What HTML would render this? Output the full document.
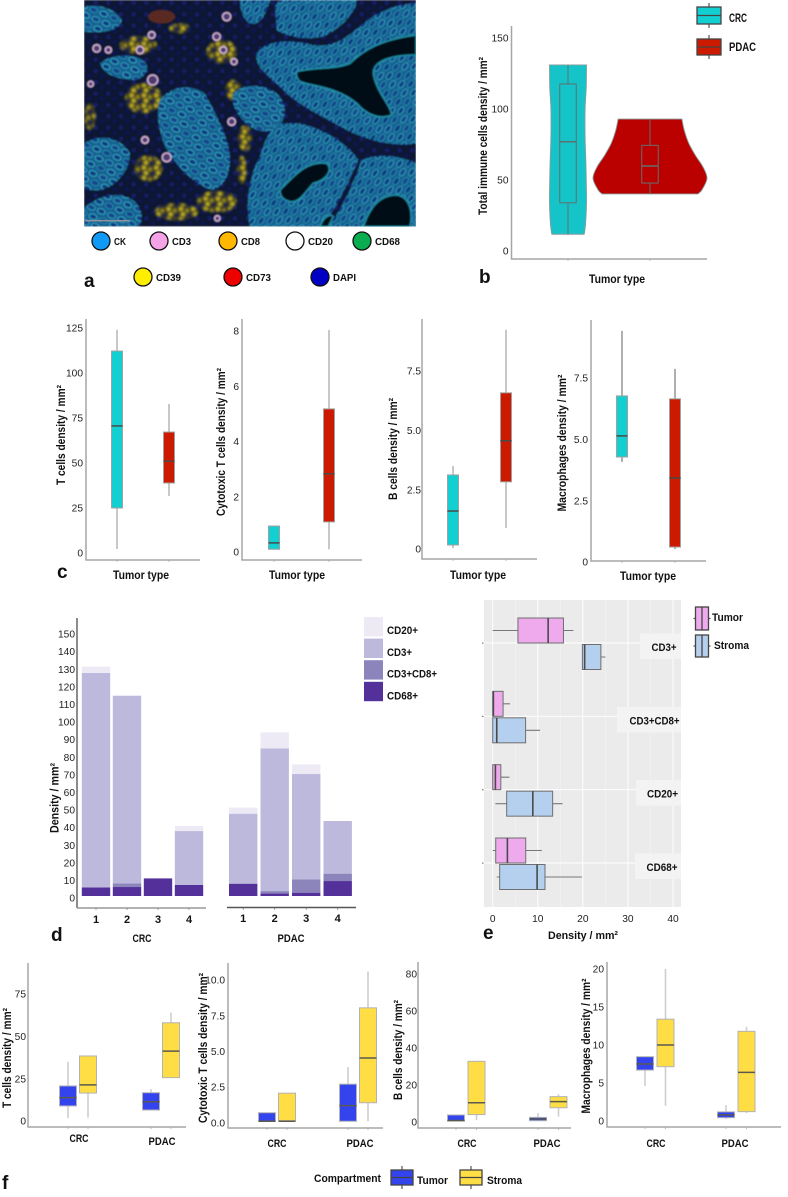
<!DOCTYPE html>
<html lang="en">
<head>
<meta charset="utf-8">
<title>Immune cell density in CRC and PDAC</title>
<style>
html,body{margin:0;padding:0;background:#fff;width:788px;height:1197px;overflow:hidden}
svg{display:block}
text{font-family:"Liberation Sans",sans-serif}
</style>
</head>
<body>
<svg id="figure" xmlns="http://www.w3.org/2000/svg" width="788" height="1197" viewBox="0 0 788 1197">
<defs>
<pattern id="cells-a" width="66" height="48" patternUnits="userSpaceOnUse" patternTransform="rotate(22)">
<rect width="66" height="48" fill="#175f8e"/>
<ellipse cx="16" cy="12" rx="12" ry="8" fill="#10387f" stroke="#38b4c8" stroke-width="3"/>
<ellipse cx="49" cy="12" rx="12" ry="8" fill="#134389" stroke="#2792b2" stroke-width="3"/>
<ellipse cx="0" cy="36" rx="12" ry="8" fill="#134389" stroke="#30a6bf" stroke-width="3"/>
<ellipse cx="33" cy="36" rx="12" ry="8" fill="#10387f" stroke="#38b4c8" stroke-width="3"/>
<ellipse cx="66" cy="36" rx="12" ry="8" fill="#134389" stroke="#30a6bf" stroke-width="3"/>
</pattern>
<pattern id="cells-b" width="66" height="44" patternUnits="userSpaceOnUse" patternTransform="rotate(-55)">
<rect width="66" height="44" fill="#175f8e"/>
<ellipse cx="16" cy="11" rx="13" ry="7" fill="#10387f" stroke="#30a6bf" stroke-width="3"/>
<ellipse cx="49" cy="11" rx="13" ry="7" fill="#134389" stroke="#2792b2" stroke-width="3"/>
<ellipse cx="0" cy="33" rx="13" ry="7" fill="#134389" stroke="#30a6bf" stroke-width="3"/>
<ellipse cx="33" cy="33" rx="13" ry="7" fill="#10387f" stroke="#2792b2" stroke-width="3"/>
<ellipse cx="66" cy="33" rx="13" ry="7" fill="#134389" stroke="#30a6bf" stroke-width="3"/>
</pattern>
<pattern id="speckle" width="37" height="31" patternUnits="userSpaceOnUse">
<rect width="37" height="31" fill="#3c3a22"/>
<circle cx="7" cy="7" r="6" fill="#cdbb22"/>
<circle cx="25" cy="12" r="5" fill="#a99c1e"/>
<circle cx="13" cy="23" r="5.5" fill="#d9c824"/>
<circle cx="31" cy="26" r="6" fill="#101a50"/>
</pattern>
<pattern id="stroma" width="38" height="34" patternUnits="userSpaceOnUse">
<rect width="38" height="34" fill="#0a1730"/>
<circle cx="9" cy="9" r="7" fill="#131d63"/>
<circle cx="28" cy="24" r="7" fill="#101850"/>
</pattern>
<filter id="soft" x="-2%" y="-2%" width="104%" height="104%"><feGaussianBlur stdDeviation="2.6"/></filter>
<filter id="softer" x="-20%" y="-20%" width="140%" height="140%"><feGaussianBlur stdDeviation="3"/></filter>
<clipPath id="photo-clip"><rect x="12" y="0" width="996" height="680"/></clipPath>
</defs>
<g transform="translate(80,0) scale(0.33333)">
<g clip-path="url(#photo-clip)">
<g filter="url(#soft)">
<rect x="12" y="0" width="996" height="680" fill="url(#stroma)"/>
<g fill="url(#speckle)" filter="url(#softer)">
<ellipse cx="175" cy="135" rx="55" ry="26"/>
<ellipse cx="190" cy="295" rx="55" ry="45"/>
<ellipse cx="205" cy="505" rx="42" ry="38"/>
<ellipse cx="290" cy="635" rx="65" ry="25"/>
<ellipse cx="410" cy="605" rx="60" ry="32"/>
<ellipse cx="425" cy="155" rx="45" ry="35"/>
<ellipse cx="460" cy="270" rx="25" ry="30"/>
<ellipse cx="495" cy="415" rx="22" ry="38"/>
<ellipse cx="485" cy="510" rx="14" ry="42"/>
<ellipse cx="30" cy="350" rx="16" ry="40"/>
<ellipse cx="300" cy="85" rx="32" ry="14"/>
</g>
<ellipse cx="245" cy="50" rx="40" ry="20" fill="#5a2a20"/>
<g fill="url(#cells-a)">
<path d="M12,20 C60,10 110,30 125,60 C120,95 60,100 12,95 Z"/>
<path d="M60,190 C90,165 140,160 180,175 C215,195 205,225 170,240 C120,240 70,225 60,190Z"/>
<path d="M240,300 C270,260 330,250 375,280 C400,330 430,380 445,440 C460,500 440,560 395,570 C340,550 290,500 255,440 C240,400 225,340 240,300Z"/>
<path d="M460,280 C490,250 550,250 590,280 C620,310 625,350 590,385 C550,405 510,390 480,350 C460,325 455,300 460,280Z"/>
<path d="M12,430 C60,400 120,410 150,460 C150,510 110,560 60,570 C40,572 25,570 12,565Z"/>
<path d="M12,625 C60,580 130,570 170,610 C190,640 190,670 170,680 L12,680Z"/>
</g>
<g fill="url(#cells-b)">
<path d="M590,370 L660,370 C740,390 800,430 835,480 C800,560 770,620 740,660 L730,680 L510,680 C495,620 505,530 540,470 C550,430 570,390 590,370Z"/>
<path d="M845,480 C890,460 960,465 1008,490 L1008,680 L745,680 C790,620 820,550 845,480Z"/>
<path d="M530,160 C560,120 620,120 680,130 C750,150 790,120 840,80 C880,40 950,10 1008,10 L1008,430 C960,440 880,430 800,390 C730,350 660,320 610,270 C570,230 520,200 530,160Z"/>
<path d="M585,20 C590,10 595,5 600,0 L830,0 C830,30 790,80 740,105 C690,125 620,110 590,90Z"/>
<path d="M480,0 L570,0 C560,40 540,80 510,70 C490,60 480,30 480,0Z"/>
</g>
<g fill="#050a14" stroke="#2296ae" stroke-width="4">
<path d="M650,215 C700,200 760,210 810,190 C850,150 900,120 1008,105 L1008,165 C940,165 880,180 880,220 C890,280 930,310 935,345 C900,360 860,345 830,310 C770,260 700,260 660,245 C650,235 648,225 650,215Z"/>
<path d="M600,570 C640,530 680,480 740,490 C760,510 740,540 700,550 C680,570 660,610 630,605 C610,600 600,590 600,570Z"/>
<path d="M850,680 C870,620 900,585 950,585 C990,590 1000,640 990,680Z"/>
<path d="M720,680 C730,650 750,640 760,650 L745,680Z"/>
</g>
<g fill="#4c3a70" stroke="#e3c0e0" stroke-width="4">
<circle cx="50" cy="145" r="11"/><circle cx="85" cy="150" r="9"/><circle cx="180" cy="150" r="11"/>
<circle cx="215" cy="105" r="10"/><circle cx="218" cy="240" r="15"/><circle cx="410" cy="110" r="11"/>
<circle cx="430" cy="150" r="10"/><circle cx="462" cy="185" r="9"/><circle cx="455" cy="365" r="11"/>
<circle cx="260" cy="472" r="13"/><circle cx="195" cy="420" r="10"/><circle cx="440" cy="50" r="12"/>
<circle cx="412" cy="655" r="8"/><circle cx="32" cy="252" r="8"/>
</g>
</g>
<line x1="15" y1="662" x2="150" y2="662" stroke="#8d93a0" stroke-width="5"/>
</g>
</g>
</svg>
<script>
// ---------- shared categories ----------
const tumorTypes = ['CRC', 'PDAC'];
const typeFills = ['#12d0d2', '#cc1a00'];

// ---------- panel a legend ----------
const markerNames = ['CK', 'CD3', 'CD8', 'CD20', 'CD68', 'CD39', 'CD73', 'DAPI'];
const markerColors = ['#0f9bf5', '#f5a3e6', '#ffb700', '#ffffff', '#0aae50', '#ffee00', '#ee0000', '#0000c4'];

// ---------- panel b: violins ----------
const bTicks = ['0', '50', '100', '150'];
const bLow = [11.6, 40];
const bQ1 = [33.8, 47.7];
const bMedian = [76.8, 59.7];
const bQ3 = [117.6, 74.3];
const bHigh = [131, 92.8];
const bCrcLevels = [131, 115, 100, 80, 60, 35, 20, 11.6];
const bCrcDensity = [0.325, 0.32, 0.3, 0.3, 0.315, 0.325, 0.31, 0.285];
const bPdacLevels = [92.8, 85, 75.7, 67, 59, 51, 42.8, 40];
const bPdacDensity = [0.56, 0.6, 0.68, 0.8, 0.93, 1, 0.91, 0.84];

// ---------- panel c: boxplots ----------
const c1Ticks = ['0', '25', '50', '75', '100', '125'];
const c1Low = [2.2, 31.7];
const c1Q1 = [25, 38.9];
const c1Median = [70.6, 51];
const c1Q3 = [112.2, 67.2];
const c1High = [124, 82.8];

const c2Ticks = ['0', '2', '4', '6', '8'];
const c2Low = [0.1, 0.1];
const c2Q1 = [0.1, 1.09];
const c2Median = [0.33, 2.83];
const c2Q3 = [0.94, 5.18];
const c2High = [0.94, 8.04];

const c3Ticks = ['0', '2.5', '5.0', '7.5'];
const c3Low = [0.04, 0.89];
const c3Q1 = [0.17, 2.83];
const c3Median = [1.6, 4.56];
const c3Q3 = [3.12, 6.58];
const c3High = [3.5, 9.24];

const c4Ticks = ['0', '2.5', '5.0', '7.5'];
const c4Low = [4.08, 0.53];
const c4Q1 = [4.28, 0.61];
const c4Median = [5.14, 3.42];
const c4Q3 = [6.77, 6.65];
const c4High = [9.42, 7.87];

// ---------- panel d: stacked bars ----------
const dTicks = ['0','10','20','30','40','50','60','70','80','90','100','110','120','130','140','150'];
const dPatients = ['1', '2', '3', '4'];
const dSeriesNames = ['CD68+', 'CD3+CD8+', 'CD3+', 'CD20+'];
const dSeriesColors = ['#54309a', '#8c85bc', '#bdb9dc', '#edeaf5'];
const dCrcCd68 = [4.9, 5.1, 10, 6.25];
const dCrcCd3Cd8 = [0, 2.1, 0, 0];
const dCrcCd3 = [121.8, 106.6, 0, 30.65];
const dCrcCd20 = [3.6, 0, 0, 2.9];
const dPdacCd68 = [7, 1.5, 1.9, 8.5];
const dPdacCd3Cd8 = [0, 1.3, 7.6, 4.2];
const dPdacCd3 = [39.8, 81.1, 59.8, 29.9];
const dPdacCd20 = [3.4, 9.1, 5.5, 0];

// ---------- panel e: horizontal boxplots ----------
const eCategories = ['CD3+', 'CD3+CD8+', 'CD20+', 'CD68+'];
const eTicks = ['0', '10', '20', '30', '40'];
const eTumorLow = [0, 0, 0, 0];
const eTumorQ1 = [5.6, 0, 0, 0.67];
const eTumorMedian = [12.3, 0.15, 0.6, 3.26];
const eTumorQ3 = [15.7, 2.3, 1.8, 7.33];
const eTumorHigh = [17.9, 3.85, 3.7, 10.9];
const eStromaLow = [19.9, 0, 0.6, 0.9];
const eStromaQ1 = [19.9, 0, 3.1, 1.55];
const eStromaMedian = [20.4, 0.9, 8.9, 9.85];
const eStromaQ3 = [24, 7.3, 13.3, 11.6];
const eStromaHigh = [25, 10.5, 15.5, 19.8];

// ---------- panel f: boxplots, order CRC tumor, CRC stroma, PDAC tumor, PDAC stroma ----------
const compartmentFills = ['#3344ee', '#ffdd44'];
const f1Ticks = ['0', '25', '50', '75'];
const f1Low = [1.7, 2, 6.5, 25.4];
const f1Q1 = [8.9, 16.5, 6.5, 25.6];
const f1Median = [13.8, 21.3, 11.4, 41.3];
const f1Q3 = [20.7, 38.4, 16.7, 58];
const f1High = [35, 38.4, 18.9, 64];

const f2Ticks = ['0.0', '2.5', '5.0', '7.5', '10.0'];
const f2Low = [0.12, 0.14, 0.1, 0.1];
const f2Q1 = [0.12, 0.14, 0.1, 1.4];
const f2Median = [0.1, 0.1, 1.2, 4.53];
const f2Q3 = [0.7, 2.07, 2.7, 8.05];
const f2High = [0.7, 2.07, 3.9, 10.6];

const f3Ticks = ['0', '20', '40', '60', '80'];
const f3Low = [0.5, 1, 0.7, 2.9];
const f3Q1 = [0.5, 4, 0.7, 7.7];
const f3Median = [0.8, 10.4, 1.6, 11];
const f3Q3 = [3.8, 32.8, 2.5, 13.7];
const f3High = [3.8, 32.8, 4.8, 15];

const f4Ticks = ['0', '5', '10', '15', '20'];
const f4Low = [4.6, 2, 0.26, 1.05];
const f4Q1 = [6.7, 7.15, 0.44, 1.23];
const f4Median = [7.5, 10, 0.8, 6.4];
const f4Q3 = [8.46, 13.4, 1.2, 11.8];
const f4High = [8.46, 20, 2.1, 12.4];

// ---------- helpers ----------
const svg = document.getElementById('figure');
const NS = 'http://www.w3.org/2000/svg';

function make(tag, attrs, name, parent) {
  const el = document.createElementNS(NS, tag);
  for (const k in attrs) el.setAttribute(k, attrs[k]);
  
  
  (parent || svg).appendChild(el);
  return el;
}
function linear(d0, r0, d1, r1) {
  return function (v) { return r0 + (v - d0) * (r1 - r0) / (d1 - d0); };
}
function label(str, x, y, opts, name) {
  const o = opts || {};
  const a = {x: x, y: y, 'font-size': o.size || 11, 'font-weight': o.weight || 'bold',
    fill: o.fill || '#111', 'text-anchor': o.anchor || 'middle'};
  if (o.len) { a.textLength = o.len; a.lengthAdjust = 'spacingAndGlyphs'; }
  if (o.rotate) a.transform = 'rotate(-90 ' + x + ' ' + y + ')';
  const el = make('text', a, name);
  el.textContent = str;
  return el;
}
function yAxis(prefix, x, top, bottom, xEnd, ticks, yOf, title, titleX, titleY, titleLen, gap) {
  make('line', {x1: x, y1: top, x2: x, y2: bottom, stroke: '#a6a6a6', 'stroke-width': 1.5}, prefix + '-y-axis');
  make('line', {x1: x - 0.7, y1: bottom, x2: xEnd, y2: bottom, stroke: '#a6a6a6', 'stroke-width': 1.5}, prefix + '-x-axis');
  ticks.forEach(function (t) {
    const y = yOf(Number(t));
    label(t, x - (gap === undefined ? 3 : gap), y + 3.6, {size: 10.2, weight: 'normal', fill: '#222', anchor: 'end'}, prefix + '-y-tick-label');
  });
  label(title, titleX + 4, titleY, {size: 12, rotate: true, len: titleLen}, prefix + '-y-axis-title');
}
function vBoxes(prefix, xOf, yOf, low, q1, med, q3, high, width, fillOf, whisker, whiskerWidth, bottom, boxStroke, medStroke) {
  q1.forEach(function (_, i) {
    const x = xOf(i);
    make('line', {x1: x, y1: yOf(high[i]), x2: x, y2: yOf(low[i]), stroke: whisker, 'stroke-width': whiskerWidth}, prefix + '-whisker');
    make('rect', {x: x - width / 2, y: yOf(q3[i]), width: width, height: yOf(q1[i]) - yOf(q3[i]),
      fill: fillOf(i), stroke: boxStroke || '#a0a0a0', 'stroke-width': 1}, prefix + '-box');
    make('line', {x1: x - width / 2, y1: yOf(med[i]), x2: x + width / 2, y2: yOf(med[i]), stroke: medStroke || '#4a4a4a', 'stroke-width': 1.5}, prefix + '-median');
    make('line', {x1: x, y1: bottom, x2: x, y2: bottom + 2, stroke: '#aaa', 'stroke-width': 0.8}, prefix + '-x-tick');
  });
}
function keyV(name, x, y, w, h, fill) {
  make('line', {x1: x + w / 2, y1: y - 4, x2: x + w / 2, y2: y + h + 4, stroke: '#555', 'stroke-width': 1.2}, name + '-whisker');
  make('rect', {x: x, y: y, width: w, height: h, fill: fill, stroke: '#444', 'stroke-width': 1.3}, name + '-swatch');
  make('line', {x1: x, y1: y + h / 2, x2: x + w, y2: y + h / 2, stroke: '#444', 'stroke-width': 1.3}, name + '-median');
}
function keyH(name, x, y, w, h, fill) {
  make('line', {x1: x - 2, y1: y + h / 2, x2: x + w + 2, y2: y + h / 2, stroke: '#555', 'stroke-width': 1.2}, name + '-whisker');
  make('rect', {x: x, y: y, width: w, height: h, fill: fill, stroke: '#444', 'stroke-width': 1.3}, name + '-swatch');
  make('line', {x1: x + w / 2, y1: y, x2: x + w / 2, y2: y + h, stroke: '#444', 'stroke-width': 1.3}, name + '-median');
}
function panelLetter(str, x, y) {
  label(str, x, y, {size: 19, anchor: 'start', fill: '#111'}, 'panel-label-' + str);
}
function textWidth(str) {
  return str.length >= 8 ? 50 : str.length === 4 && str.indexOf('+') >= 0 ? 25 : 31;
}

// ---------- panel a ----------
const markerCols = [101, 159, 228, 295, 362, 143, 233, 320];
const markerLabelWidths = [12, 19, 19, 25, 25, 25, 25, 23];
markerNames.forEach(function (m, i) {
  const cy = i < 5 ? 241 : 277;
  make('circle', {cx: markerCols[i], cy: cy, r: 9, fill: markerColors[i], stroke: '#111', 'stroke-width': 1.3}, 'legend-dot-' + m.toLowerCase());
  label(m, markerCols[i] + 13, cy + 4, {size: 10.5, anchor: 'start', len: markerLabelWidths[i]}, 'legend-label-' + m.toLowerCase());
});
panelLetter('a', 84, 287);

// ---------- panel b ----------
const bY = linear(0, 250.7, 150, 38);
const bX = linear(0, 568, 1, 650);
const bWidth = linear(0, 0, 1, 57);
yAxis('b', 511.5, 26, 259, 707, bTicks, bY, 'Total immune cells density / mm²', 483, 136, 158);
function curve(pts) {
  let d = '';
  for (let i = 0; i < pts.length - 1; i++) {
    const p0 = pts[Math.max(i - 1, 0)], p1 = pts[i], p2 = pts[i + 1], p3 = pts[Math.min(i + 2, pts.length - 1)];
    d += ' C' + (p1[0] + (p2[0] - p0[0]) / 6) + ',' + (p1[1] + (p2[1] - p0[1]) / 6) + ' ' +
      (p2[0] - (p3[0] - p1[0]) / 6) + ',' + (p2[1] - (p3[1] - p1[1]) / 6) + ' ' + p2[0] + ',' + p2[1];
  }
  return d;
}
function violin(name, cx, levels, density, fill) {
  const right = levels.map(function (v, i) { return [cx + bWidth(density[i]), bY(v)]; });
  const left = levels.map(function (v, i) { return [cx - bWidth(density[i]), bY(v)]; }).reverse();
  const d = 'M' + right[0].join(',') + curve(right) + ' L' + left[0].join(',') + curve(left) + ' Z';
  make('path', {d: d, fill: fill, stroke: '#8a9a9a', 'stroke-width': 0.9, 'stroke-linejoin': 'round'}, name);
}
violin('violin-crc', bX(0), bCrcLevels, bCrcDensity, '#15c4c8');
violin('violin-pdac', bX(1), bPdacLevels, bPdacDensity, '#bb0000');
vBoxes('b', bX, bY, bLow, bQ1, bMedian, bQ3, bHigh, 16.5, function (i) { return ['#15c4c8', '#bb0000'][i]; }, '#5f7070', 1, 259, '#5f7070', '#5f7070');
label('Tumor type', 617, 283, {size: 11.5, len: 56}, 'b-x-axis-title');
panelLetter('b', 479, 283);
keyV('legend-crc', 697, 7, 24, 17, '#12d0d2');
label('CRC', 729, 22, {size: 11.5, anchor: 'start', len: 18}, 'legend-label-crc');
keyV('legend-pdac', 697, 39, 24, 16, '#cc1a00');
label('PDAC', 729, 51, {size: 11.5, anchor: 'start', len: 27}, 'legend-label-pdac');

// ---------- panel c ----------
function cPanel(prefix, axisX, top, bottom, xEnd, ticks, yOf, x0, x1, low, q1, med, q3, high, title, titleX, titleY, titleLen, labelX, labelY, whisker, gap) {
  yAxis(prefix, axisX, top, bottom, xEnd, ticks, yOf, title, titleX, titleY, titleLen, gap);
  const xOf = linear(0, x0, 1, x1);
  vBoxes(prefix, xOf, yOf, low, q1, med, q3, high, 11, function (i) { return typeFills[i]; }, whisker, 1.4, bottom);
  label('Tumor type', labelX, labelY, {size: 11.5, len: 56}, prefix + '-x-axis-title');
}
cPanel('c1', 86, 319, 560, 200, c1Ticks, linear(0, 553, 125, 328), 117, 169, c1Low, c1Q1, c1Median, c1Q3, c1High, 'T cells density / mm²', 61, 435, 100, 141, 579, '#b0b0b0', 3);
cPanel('c2', 242, 319, 560, 362, c2Ticks, linear(0, 552, 8, 331), 274, 329, c2Low, c2Q1, c2Median, c2Q3, c2High, 'Cytotoxic T cells density / mm²', 221, 442, 148, 297, 579, '#b0b0b0', 3);
cPanel('c3', 422, 319, 559, 537, c3Ticks, linear(0, 549, 7.5, 371), 453, 506, c3Low, c3Q1, c3Median, c3Q3, c3High, 'B cells density / mm²', 393, 449, 102, 478, 579, '#b0b0b0', 1);
cPanel('c4', 591, 320, 561, 706, c4Ticks, linear(0, 562, 7.5, 378), 622, 675, c4Low, c4Q1, c4Median, c4Q3, c4High, 'Macrophages density / mm²', 562, 443, 137, 648, 580, '#8f8f8f', 3);
panelLetter('c', 57, 578);

// ---------- panel d ----------
const dY = linear(0, 896, 150, 632);
const dCrcX = linear(0, 96, 1, 127);
const dPdacX = linear(0, 243.2, 1, 274.7);
make('line', {x1: 77, y1: 618, x2: 77, y2: 908, stroke: '#666', 'stroke-width': 1.5}, 'd-y-axis');
make('line', {x1: 77, y1: 908, x2: 206, y2: 908, stroke: '#999', 'stroke-width': 1.5}, 'd-crc-x-axis');
make('line', {x1: 227, y1: 907.5, x2: 356, y2: 907.5, stroke: '#555', 'stroke-width': 1.5}, 'd-pdac-x-axis');
dTicks.forEach(function (t) {
  label(t, 75, dY(Number(t)) + 5.6, {size: 10.2, weight: 'normal', fill: '#222', anchor: 'end'}, 'd-y-tick-label');
});
label('Density / mm²', 58.5, 798, {size: 12, rotate: true, len: 70}, 'd-y-axis-title');
function stacked(prefix, xOf, layers, labelY) {
  dPatients.forEach(function (p, i) {
    let sum = 0;
    layers.forEach(function (layer, s) {
      if (layer[i] > 0) {
        make('rect', {x: xOf(i) - 14.2, y: dY(sum + layer[i]), width: 28.4, height: dY(sum) - dY(sum + layer[i]), fill: dSeriesColors[s]}, prefix + '-bar-' + p + '-segment');
      }
      sum += layer[i];
    });
    make('line', {x1: xOf(i), y1: 908, x2: xOf(i), y2: 910, stroke: '#888', 'stroke-width': 0.8}, prefix + '-x-tick');
    label(p, xOf(i), labelY, {size: 11}, prefix + '-x-tick-label');
  });
}
stacked('d-crc', dCrcX, [dCrcCd68, dCrcCd3Cd8, dCrcCd3, dCrcCd20], 923);
stacked('d-pdac', dPdacX, [dPdacCd68, dPdacCd3Cd8, dPdacCd3, dPdacCd20], 922);
label('CRC', 142, 942, {size: 11, len: 19}, 'd-crc-group-label');
label('PDAC', 291, 942, {size: 11, len: 27}, 'd-pdac-group-label');
panelLetter('d', 51, 941);
dSeriesNames.forEach(function (n, s) {
  const row = 3 - s;
  make('rect', {x: 364, y: 617 + row * 21.6, width: 19, height: 19.4, fill: dSeriesColors[s]}, 'legend-swatch-' + n.toLowerCase());
  label(n, 387, 634 + row * 21.8, {size: 11, anchor: 'start', len: textWidth(n)}, 'legend-label-' + n.toLowerCase());
});

// ---------- panel e ----------
const eX = linear(0, 492.7, 40, 673);
const eCatY = linear(0, 643, 3, 863);
make('rect', {x: 484, y: 600, width: 197, height: 307, fill: '#ebebeb'}, 'e-plot-background');
eTicks.forEach(function (t, i) {
  make('line', {x1: eX(Number(t)), y1: 600, x2: eX(Number(t)), y2: 907, stroke: '#fff', 'stroke-width': 0.9}, 'e-gridline-major');
  if (i < eTicks.length - 1) {
    const mid = (Number(t) + Number(eTicks[i + 1])) / 2;
    make('line', {x1: eX(mid), y1: 600, x2: eX(mid), y2: 907, stroke: '#f5f5f5', 'stroke-width': 0.5}, 'e-gridline-minor');
  }
  label(t, eX(Number(t)), 922, {size: 10.2, weight: 'normal', fill: '#222'}, 'e-x-tick-label');
});
const eStripWidths = [41, 64, 45, 46];
const eStripTextX = [664, 654.5, 662.5, 662];
eCategories.forEach(function (c, i) {
  const y = eCatY(i);
  make('line', {x1: 484, y1: y, x2: 681, y2: y, stroke: '#fff', 'stroke-width': 0.9}, 'e-gridline-horizontal');
  make('rect', {x: 482, y: y - 0.5, width: 1.5, height: 1.2, fill: '#777'}, 'e-y-tick');
  make('rect', {x: 681 - eStripWidths[i], y: y - 9.5, width: eStripWidths[i], height: 25.5, fill: '#f3f3f3'}, 'e-strip-' + c.toLowerCase());
  label(c, eStripTextX[i], y + 8, {size: 11, len: textWidth(c)}, 'e-strip-label');
});
function hBoxes(prefix, offset, low, q1, med, q3, high, fill) {
  eCategories.forEach(function (c, i) {
    const y = eCatY(i) + offset;
    make('line', {x1: eX(low[i]), y1: y, x2: eX(high[i]), y2: y, stroke: '#777', 'stroke-width': 1.1}, prefix + '-whisker');
    make('rect', {x: eX(q1[i]), y: y - 12.5, width: eX(q3[i]) - eX(q1[i]), height: 25, fill: fill, stroke: '#6f6f6f', 'stroke-width': 1}, prefix + '-box');
    make('line', {x1: eX(med[i]), y1: y - 12.5, x2: eX(med[i]), y2: y + 12.5, stroke: '#4a4a4a', 'stroke-width': 1.6}, prefix + '-median');
  });
}
hBoxes('e-tumor', -12.5, eTumorLow, eTumorQ1, eTumorMedian, eTumorQ3, eTumorHigh, '#eeaaec');
hBoxes('e-stroma', 14, eStromaLow, eStromaQ1, eStromaMedian, eStromaQ3, eStromaHigh, '#b5d0ee');
label('Density / mm²', 583, 939, {size: 11, len: 70}, 'e-x-axis-title');
panelLetter('e', 483, 939);
keyH('legend-tumor', 695.5, 607, 13, 23, '#eeaaec');
label('Tumor', 712, 621, {size: 11, anchor: 'start', len: 31}, 'legend-label-tumor');
keyH('legend-stroma', 695.5, 635, 13, 22, '#b5d0ee');
label('Stroma', 714, 649, {size: 11, anchor: 'start', len: 35}, 'legend-label-stroma');

// ---------- panel f ----------
function fPanel(prefix, axisX, top, bottom, xEnd, ticks, yOf, x0, group, dodge, low, q1, med, q3, high, title, titleX, titleY, titleLen, crcX, crcY, pdacX, pdacY, gap) {
  yAxis(prefix, axisX, top, bottom, xEnd, ticks, yOf, title, titleX, titleY, titleLen, gap);
  const xOf = function (i) { return x0 + Math.floor(i / 2) * group + (i % 2) * dodge; };
  vBoxes(prefix, xOf, yOf, low, q1, med, q3, high, 17, function (i) { return compartmentFills[i % 2]; }, '#cfcfcf', 1.6, bottom, '#b3b3b3', '#5a5a50');
  label(tumorTypes[0], crcX, crcY, {size: 11, len: 19}, prefix + '-x-label-crc');
  label(tumorTypes[1], pdacX, pdacY, {size: 11, len: 27}, prefix + '-x-label-pdac');
}
fPanel('f1', 28, 963, 1127, 186, f1Ticks, linear(0, 1121, 75, 994), 68, 83, 20, f1Low, f1Q1, f1Median, f1Q3, f1High, 'T cells density / mm²', 7, 1058, 100, 79, 1142, 162, 1145, 2);
fPanel('f2', 228, 963, 1128, 383, f2Ticks, linear(0, 1122.7, 10, 980), 267, 81, 20, f2Low, f2Q1, f2Median, f2Q3, f2High, 'Cytotoxic T cells density / mm²', 203, 1048, 150, 277, 1147, 360, 1147, 3);
fPanel('f3', 418, 962, 1128, 571, f3Ticks, linear(0, 1122, 80, 974), 456, 82, 20.5, f3Low, f3Q1, f3Median, f3Q3, f3High, 'B cells density / mm²', 398, 1050, 100, 467, 1147, 547, 1147, 1);
fPanel('f4', 607, 962, 1127, 781, f4Ticks, linear(0, 1121, 20, 969), 645, 81, 20.5, f4Low, f4Q1, f4Median, f4Q3, f4High, 'Macrophages density / mm²', 586, 1046, 135, 656, 1147, 735, 1147, 3);
panelLetter('f', 2, 1189);
label('Compartment', 314, 1182, {size: 11, anchor: 'start', len: 67}, 'legend-title-compartment');
keyV('legend-compartment-tumor', 391, 1170, 22, 15, '#3344ee');
label('Tumor', 417, 1184, {size: 11, anchor: 'start', len: 31}, 'legend-compartment-tumor-label');
keyV('legend-compartment-stroma', 460, 1170, 22, 15, '#ffdd44');
label('Stroma', 487, 1184, {size: 11, anchor: 'start', len: 35}, 'legend-compartment-stroma-label');
</script>
</body>
</html>
